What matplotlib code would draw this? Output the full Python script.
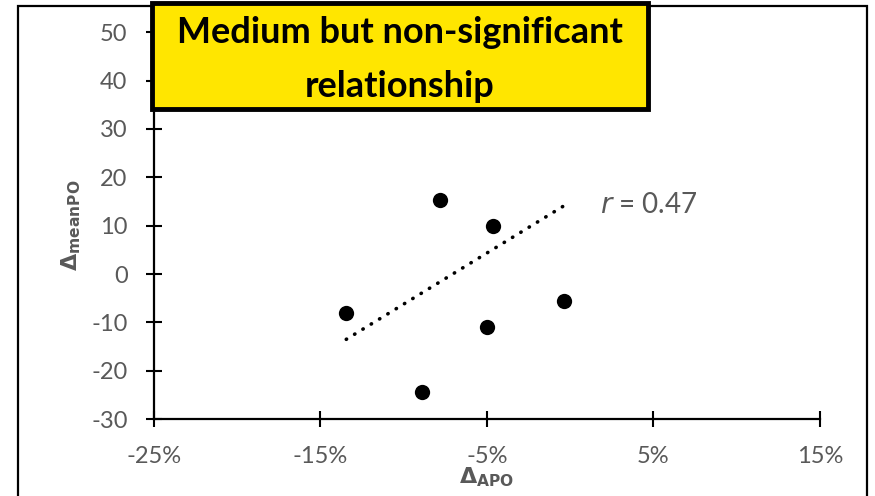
import matplotlib
matplotlib.use("Agg")
import matplotlib.pyplot as plt
from matplotlib.patches import Rectangle
from matplotlib.ticker import FuncFormatter
import numpy as np

# Data
x_apo = [-13.45, -7.84, -4.62, -0.38, -4.98, -8.9]      # percent
y_meanpo = [-8.0, 15.3, 9.9, -5.6, -10.9, -24.4]
trend_x = [-13.45, -0.38]
trend_y = [-13.5, 14.1]
x_ticks = [-25, -15, -5, 5, 15]
y_ticks = [-30, -20, -10, 0, 10, 20, 30, 40, 50]
title_lines = ["Medium but non-significant", "relationship"]
r_label = "0.47"

plt.rcParams['font.family'] = ['Lato', 'DejaVu Sans']
plt.rcParams['mathtext.fontset'] = 'dejavusans'
plt.rcParams['axes.unicode_minus'] = False
gray = '#595959'

fig = plt.figure(figsize=(8.75, 4.96), dpi=100)
ax = fig.add_axes([0.176, 0.155, 0.761, 0.78])

ax.plot(trend_x, trend_y, linestyle=(0, (0.1, 2.6)), color='black',
        linewidth=2.6, dash_capstyle='round', solid_capstyle='round')
ax.plot(x_apo, y_meanpo, 'o', color='black', markersize=11, markeredgewidth=0, zorder=3)

ax.set_xlim(-25, 15)
ax.set_ylim(-30, 50)
ax.set_xticks(x_ticks)
ax.set_yticks(y_ticks)
ax.xaxis.set_major_formatter(FuncFormatter(lambda v, p: f"{int(v)}%"))
ax.tick_params(direction='inout', length=12, width=1.5, colors='black',
               labelcolor=gray, labelsize=17)
ax.tick_params(axis='y', pad=13)
ax.tick_params(axis='x', pad=13)
for s in ['top', 'right']:
    ax.spines[s].set_visible(False)
for s in ['left', 'bottom']:
    ax.spines[s].set_linewidth(1.6)
    ax.spines[s].set_color('black')

ax.set_xlabel(r'$\mathbf{\Delta}_{\mathbf{APO}}$', color=gray, fontsize=16, labelpad=-1)
ax.set_ylabel(r'$\mathbf{\Delta}_{\mathbf{meanPO}}$', color=gray, fontsize=16, labelpad=6)

ax.text(1.8, 12.6, r'$\it{r}$ = ' + r_label, color=gray, fontsize=20,
        ha='left', va='baseline')

# Figure frame
fig.patches.append(Rectangle((18/875, -0.05), (867-18)/875, 1.05 - 6/496,
                             transform=fig.transFigure, fill=False,
                             edgecolor='black', linewidth=1.6, zorder=0))

# Title box
fig.patches.append(Rectangle((152/875, 1 - 109/496), (648-152)/875, (109-3)/496,
                             transform=fig.transFigure, facecolor='#FFE600',
                             edgecolor='black', linewidth=3.5, zorder=5))
fig.text(400/875, 1 - 43/496, title_lines[0], ha='center', va='baseline',
         fontsize=26, fontweight='bold', color='black', zorder=6)
fig.text(400/875, 1 - 97/496, title_lines[1], ha='center', va='baseline',
         fontsize=26, fontweight='bold', color='black', zorder=6)

fig.savefig('out.png', dpi=100)
